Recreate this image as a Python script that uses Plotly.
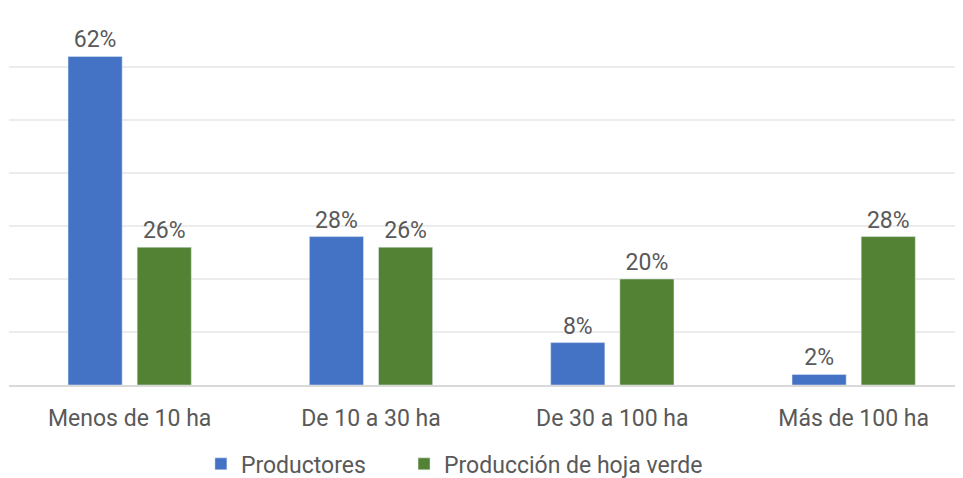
import plotly.graph_objects as go

categories = ["Menos de 10 ha", "De 10 a 30 ha", "De 30 a 100 ha", "Más de 100 ha"]
productores = [62, 28, 8, 2]
hoja_verde = [26, 26, 20, 28]
series_names = ["Productores", "Producción de hoja verde"]
colors = ["#4472C4", "#548235"]
legend_ids = ["legend", "legend2"]

fig = go.Figure()
for name, vals, col, lg in zip(series_names, [productores, hoja_verde], colors, legend_ids):
    fig.add_trace(go.Bar(
        x=categories, y=vals, name=name, marker_color=col, legend=lg,
        text=[f"{v}%" for v in vals], textposition="outside",
        textfont=dict(color="#595959", size=23, family="Roboto"),
        cliponaxis=False,
    ))

leg_common = dict(orientation="h", xanchor="left", xref="container", yref="container",
                  y=0.03, yanchor="middle", font=dict(size=23, color="#595959"),
                  itemwidth=30)
fig.update_layout(
    width=955, height=470,
    margin=dict(l=1, r=0, t=6, b=93),
    paper_bgcolor="white", plot_bgcolor="white",
    barmode="group", bargap=0.427, bargroupgap=0.217,
    font=dict(family="Roboto", color="#595959", size=23),
    showlegend=True,
    legend=dict(x=0.202, **leg_common),
    legend2=dict(x=0.4147, **leg_common),
    xaxis=dict(range=[-0.5, 3.453], showgrid=False, showline=True, linecolor="#d9d9d9",
               linewidth=1.5, ticks="", ticklabelstandoff=12,
               tickfont=dict(size=23, color="#595959")),
    yaxis=dict(range=[0, 70], dtick=10, showgrid=True, gridcolor="#ececec", gridwidth=1.5,
               showticklabels=False, zeroline=False, showline=False),
)
fig.write_html("out.html")
